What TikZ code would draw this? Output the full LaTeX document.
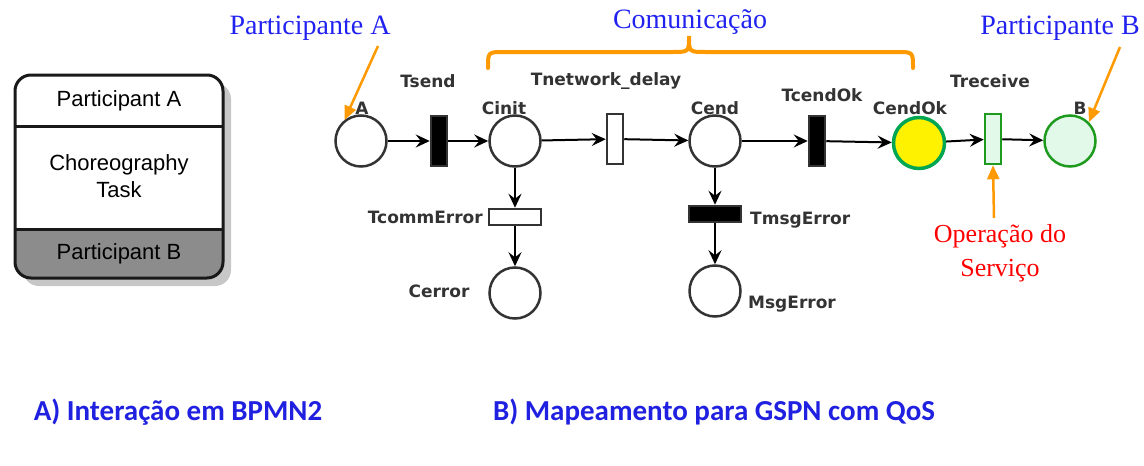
\documentclass[tikz,border=0pt]{standalone}
\usepackage{fontspec}
\setmainfont{Liberation Serif}
\newfontfamily\notefont{Liberation Serif}
\newfontfamily\pnfont{DejaVu Sans}
\newfontfamily\boxfont{Liberation Sans}
\newfontfamily\capfont{Carlito}
\usetikzlibrary{arrows.meta}
\definecolor{pngray}{HTML}{333333}
\definecolor{noteblue}{HTML}{2222F0}
\definecolor{capblue}{HTML}{2020E0}
\definecolor{hintorange}{HTML}{FF9900}
\definecolor{okgreen}{HTML}{00A651}
\definecolor{svgreen}{HTML}{1E9A1E}
\definecolor{lightgreen}{HTML}{E2F9EA}
\definecolor{laneGray}{HTML}{8C8C8C}

\begin{document}
\begin{tikzpicture}[x=1pt,y=-1pt,
  place/.style={circle,draw=pngray,line width=2.5pt,minimum size=51pt,inner sep=0pt},
  trans/.style={draw=pngray,line width=2.5pt,minimum width=16pt,minimum height=50pt,inner sep=0pt},
  htrans/.style={trans,minimum width=52pt,minimum height=16pt},
  lbl/.style={font=\pnfont\bfseries\fontsize{17}{17}\selectfont,text=pngray,inner sep=0pt},
  boxtext/.style={font=\boxfont\fontsize{22}{27}\selectfont,align=center},
  note/.style={font=\notefont\fontsize{28}{33}\selectfont,text=noteblue,align=center},
  caption/.style={font=\capfont\bfseries\fontsize{29}{30}\selectfont,text=capblue},
  arc/.style={-{Stealth[length=14pt,width=13pt,inset=5pt]},line width=2pt},
  hint/.style={-{Triangle[length=14pt,width=12pt]},line width=2.5pt,draw=hintorange,fill=hintorange}]
  \useasboundingbox (0,0) rectangle (1144,466);

  % BPMN choreography task
  \fill[black!22,rounded corners=16pt] (23,83) rectangle (231,286);
  \fill[white,rounded corners=16pt] (15,75) rectangle (223,278);
  \begin{scope}
    \clip[rounded corners=16pt] (15,75) rectangle (223,278);
    \fill[laneGray] (15,229) rectangle (223,278);
  \end{scope}
  \draw[line width=3pt,black!90,rounded corners=16pt] (15,75) rectangle (223,278);
  \draw[line width=3pt,black!90] (15,126) -- (223,126) (15,229) -- (223,229);
  \node[boxtext] (partA) at (119,101) {Participant A};
  \node[boxtext] (task) at (119,176) {Choreography\\Task};
  \node[boxtext] (partB) at (119,254) {Participant B};

  % GSPN
  \node[place] (A) at (361,141){};
  \node[trans,fill=black] (Tsend) at (439,141){};
  \node[place] (Cinit) at (515,141){};
  \node[trans] (Tnet) at (615,139){};
  \node[place] (Cend) at (715,141){};
  \node[trans,fill=black] (TcendOk) at (817,141){};
  \node[place,draw=okgreen,line width=3.5pt,fill=yellow] (CendOk) at (919,143){};
  \node[trans,draw=svgreen,fill=lightgreen] (Treceive) at (993,139){};
  \node[place,draw=svgreen,fill=lightgreen] (B) at (1070,141){};
  \node[htrans] (TcommError) at (515,217){};
  \node[place] (Cerror) at (515,293){};
  \node[htrans,fill=black] (TmsgError) at (715,214){};
  \node[place] (MsgError) at (715,291){};

  \node[lbl] (lA) at (362,108) {A};
  \node[lbl] (lTsend) at (428,81) {Tsend};
  \node[lbl] (lCinit) at (504,108) {Cinit};
  \node[lbl] (lTnet) at (606,81) {Tnetwork\_delay};
  \node[lbl] (lCend) at (715,108) {Cend};
  \node[lbl] (lTcendOk) at (822,95) {TcendOk};
  \node[lbl] (lCendOk) at (910,108) {CendOk};
  \node[lbl] (lTreceive) at (990,81) {Treceive};
  \node[lbl] (lB) at (1080,108) {B};
  \node[lbl,anchor=east] (lTcommError) at (483,217) {TcommError};
  \node[lbl] (lCerror) at (439,291) {Cerror};
  \node[lbl,anchor=west] (lTmsgError) at (750,220) {TmsgError};
  \node[lbl,anchor=west] (lMsgError) at (748,304) {MsgError};

  \path[arc]
    (A) edge (Tsend)
    (Tsend) edge (Cinit)
    (Cinit) edge (Tnet)
    (Tnet) edge (Cend)
    (Cend) edge (TcendOk)
    (TcendOk) edge (CendOk)
    (CendOk) edge (Treceive)
    (Treceive) edge (B)
    (Cinit) edge (TcommError)
    (TcommError) edge (Cerror)
    (Cend) edge (TmsgError)
    (TmsgError) edge (MsgError);

  % annotations
  \node[note] (pA) at (310,28) {Participante A};
  \node[note] (com) at (690,22) {Comunicação};
  \node[note] (pB) at (1060,28) {Participante B};
  \node[note,text=red,font=\notefont\fontsize{26}{34}\selectfont] (op) at (1000,253) {Operação do\\Serviço};
  \coordinate (pAtail) at (378,46);
  \coordinate (pBtail) at (1120,47);
  \coordinate (optail) at (994,218);
  \draw[hint] (pAtail) -- (A.128);
  \draw[hint] (pBtail) -- (B.45);
  \draw[hint] (optail) -- (Treceive.south);
  \draw[hintorange,line width=4pt,line cap=round]
    (488,68) .. controls (488,52) .. (504,52) -- (672,52)
    .. controls (689,52) .. (689,36) .. controls (689,52) .. (706,52)
    -- (897,52) .. controls (913,52) .. (913,68);

  \node[caption] (capA) at (178,412) {A) Interação em BPMN2};
  \node[caption] (capB) at (714,412) {B) Mapeamento para GSPN com QoS};
\end{tikzpicture}
\end{document}
